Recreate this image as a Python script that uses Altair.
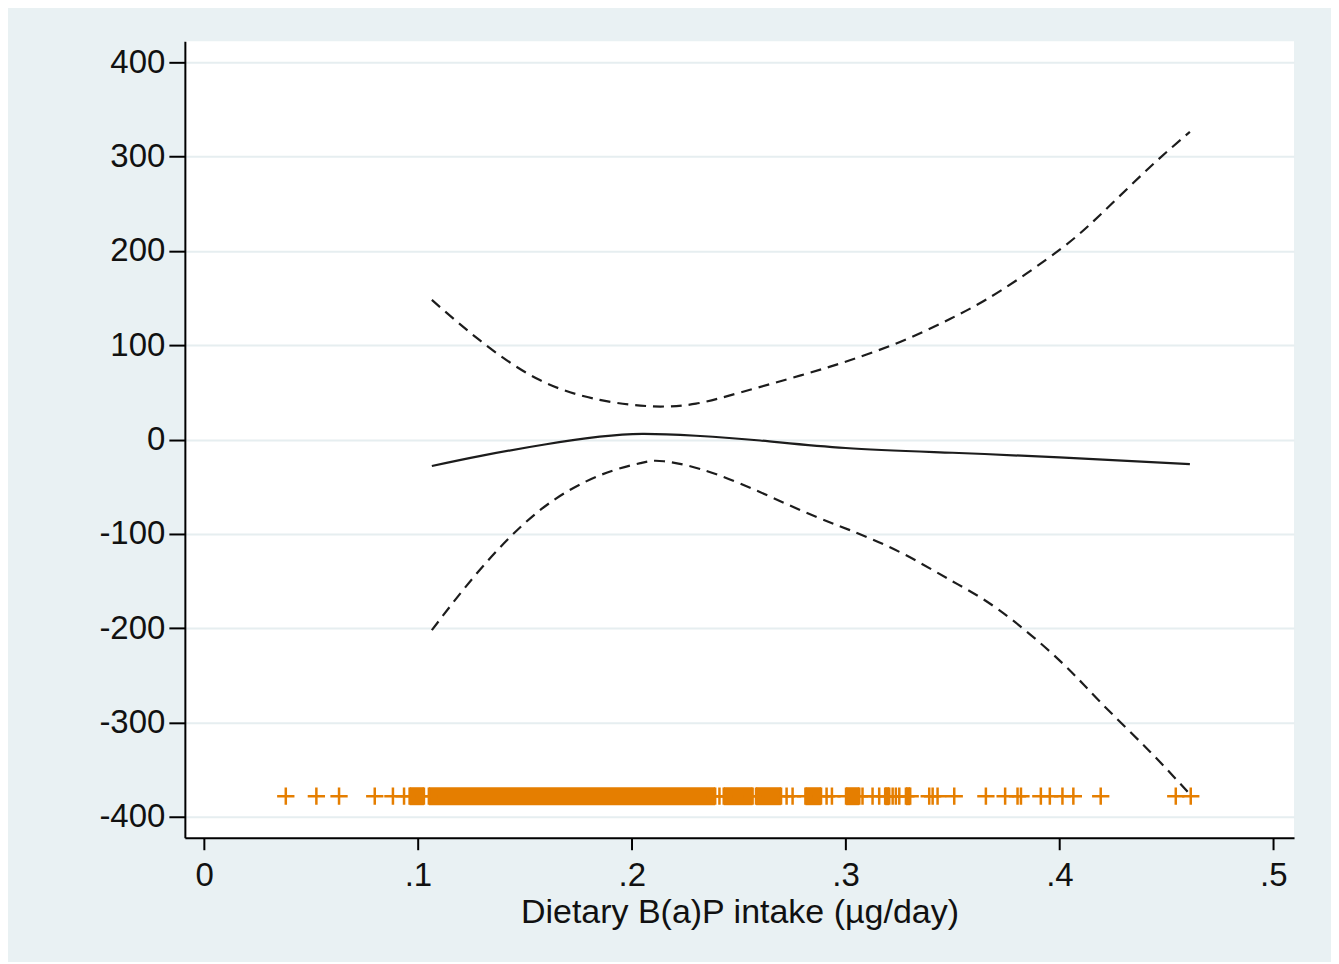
import altair as alt
import pandas as pd

# Estimated curve (solid)
est_x = [0.1065, 0.13, 0.16, 0.185, 0.205, 0.23, 0.26, 0.30, 0.35, 0.40, 0.461]
est_y = [-28, -17, -5, 3, 6, 4, -1, -9, -14, -19, -26]

# Upper confidence limit (dashed)
up_x = [0.1065, 0.129, 0.157, 0.185, 0.204, 0.215, 0.23, 0.251, 0.279, 0.302, 0.326, 0.349, 0.372, 0.400, 0.419, 0.442, 0.461]
up_y = [148, 105, 63, 42, 36, 35, 38, 50, 68, 84, 104, 128, 157, 201, 238, 288, 326]

# Lower confidence limit (dashed)
lo_x = [0.1065, 0.129, 0.157, 0.185, 0.204, 0.215, 0.241, 0.279, 0.302, 0.326, 0.349, 0.372, 0.400, 0.419, 0.442, 0.461]
lo_y = [-202, -138, -75, -38, -25, -23, -38, -75, -96, -120, -149, -181, -234, -278, -330, -376]

# Rug of observations: isolated points
rug_points = [0.0382, 0.0525, 0.0631, 0.0798, 0.0883, 0.0935,
              0.2410, 0.2724, 0.2752, 0.2911, 0.2936,
              0.3079, 0.3126, 0.3157, 0.3220, 0.3235, 0.3251,
              0.3391, 0.3407, 0.3430, 0.3508, 0.3656, 0.3746, 0.3804, 0.3820,
              0.3913, 0.3955, 0.4014, 0.4065, 0.4193, 0.4544, 0.4614]
# Dense runs of observations (first and last value of each run)
run_start = [0.0961, 0.1051, 0.2430, 0.2581, 0.2812, 0.3002, 0.3185, 0.3282]
run_end = [0.1028, 0.2390, 0.2565, 0.2698, 0.2885, 0.3064, 0.3204, 0.3302]
rug_y = -378

y_ticks = [-400, -300, -200, -100, 0, 100, 200, 300, 400]
x_ticks = [0, 0.1, 0.2, 0.3, 0.4, 0.5]

ORANGE = "#e57e00"
INK = "#1c1c1c"
FONT = "Liberation Sans"

xscale = alt.Scale(domain=[-0.009, 0.5097], nice=False, zero=False)
yscale = alt.Scale(domain=[-422, 422], nice=False, zero=False)

xaxis = alt.Axis(values=x_ticks, title="Dietary B(a)P intake (µg/day)",
                 labelExpr="datum.value == 0 ? '0' : replace(format(datum.value, '.1f'), '0.', '.')",
                 grid=False)
yaxis = alt.Axis(values=y_ticks, title=None, grid=True,
                 labelExpr="'' + datum.value")

est_df = pd.DataFrame({"x": est_x, "y": est_y})
up_df = pd.DataFrame({"x": up_x, "y": up_y})
lo_df = pd.DataFrame({"x": lo_x, "y": lo_y})
pts = rug_points + run_start + run_end
pts_df = pd.DataFrame({"x": pts, "y": [rug_y] * len(pts)})
runs_df = pd.DataFrame({"x": run_start, "x2": run_end, "y": [rug_y] * len(run_start)})

base_x = alt.X("x:Q", scale=xscale, axis=xaxis)
base_y = alt.Y("y:Q", scale=yscale, axis=yaxis)

runs = alt.Chart(runs_df).mark_rule(color=ORANGE, strokeWidth=18, strokeCap="butt").encode(
    x=base_x, x2="x2:Q", y=base_y)

crosses = alt.Chart(pts_df).mark_point(
    shape="M-1,0L1,0M0,-1L0,1", size=300, filled=False, stroke=ORANGE,
    strokeWidth=2.5, opacity=1).encode(x=base_x, y=base_y)

est = alt.Chart(est_df).mark_line(color=INK, strokeWidth=2.2, interpolate="natural").encode(
    x=base_x, y=base_y)
up = alt.Chart(up_df).mark_line(color=INK, strokeWidth=2.2, strokeDash=[11, 7], interpolate="natural").encode(
    x=base_x, y=base_y)
lo = alt.Chart(lo_df).mark_line(color=INK, strokeWidth=2.2, strokeDash=[11, 7], interpolate="natural").encode(
    x=base_x, y=base_y)

chart = alt.layer(runs, crosses, est, up, lo).properties(
    width=1110, height=797,
    autosize=alt.AutoSizeParams(type="none"),
    padding={"left": 177, "top": 33, "right": 37, "bottom": 124},
    background="#e9f1f3",
).configure_view(
    fill="white", stroke=None
).configure_axis(
    labelFont=FONT, titleFont=FONT, labelFontSize=33, titleFontSize=34,
    labelColor="#111", titleColor="#111", titleFontWeight="normal",
    domainColor="#000", domainWidth=2, tickColor="#000", tickWidth=2,
    gridColor="#e6eef0", gridWidth=2,
).configure_axisY(
    tickSize=16, labelPadding=4
).configure_axisX(
    tickSize=12, labelPadding=10, titlePadding=3
)

chart.save("out.html", embed_options={"renderer": "svg", "actions": False})
